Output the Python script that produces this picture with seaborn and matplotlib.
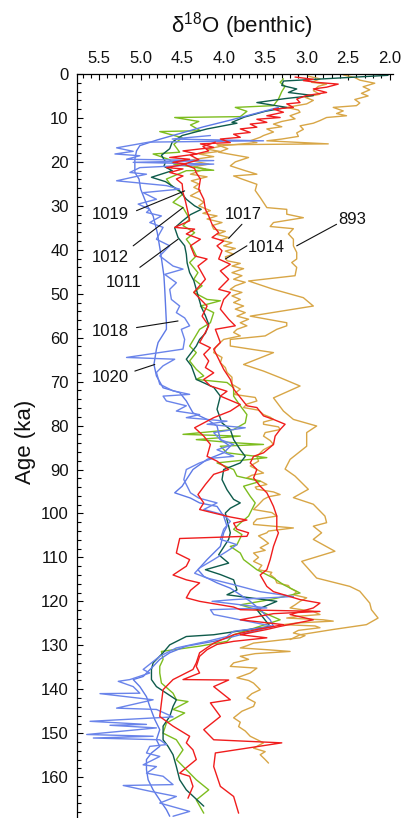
import matplotlib
matplotlib.use("Agg")
import matplotlib.pyplot as plt
from matplotlib.ticker import MultipleLocator, FormatStrFormatter
import seaborn as sns
import pandas as pd

# ---- benthic d18O records, (age ka, d18O permil) ----
core_893 = [(0.2, 2.56), (0.8, 2.42), (1.4, 2.36), (2.1, 2.18), (2.9, 2.32), (3.6, 2.24), (4.4, 2.34),
            (5.0, 2.26), (5.8, 2.42), (6.6, 2.36), (7.2, 2.40), (7.6, 2.68), (8.4, 2.56), (9.0, 2.64),
            (9.5, 2.52), (9.9, 2.76), (10.6, 2.84), (11.2, 2.92), (11.8, 3.08), (12.6, 3.04), (13.4, 3.12),
            (14.2, 3.10), (14.8, 3.30), (15.2, 3.48), (15.9, 2.74), (16.1, 4.08), (17.0, 3.95), (17.8, 4.06),
            (19.0, 3.70), (20.0, 3.86), (20.9, 3.92), (22.0, 3.74), (22.8, 3.60), (23.2, 3.88), (23.9, 3.78),
            (25.1, 3.60), (26.5, 3.62), (28.1, 3.56), (30.4, 3.48), (30.8, 3.24), (31.9, 3.24), (32.7, 3.04),
            (33.8, 3.40), (34.7, 3.44), (35.2, 3.16), (36.4, 3.22), (37.6, 3.16), (39.1, 3.16), (40.6, 3.12),
            (42.1, 3.12), (42.9, 3.18), (44.0, 3.12), (45.9, 3.14), (47.1, 3.70), (49.0, 3.40), (50.9, 3.04),
            (52.8, 2.92), (55.1, 3.68), (56.6, 3.24), (57.3, 3.24), (58.1, 3.36), (59.6, 3.50), (60.4, 3.92),
            (61.9, 3.92), (63.4, 3.40), (66.1, 3.76), (67.6, 3.52), (69.1, 3.32), (71.0, 3.08), (73.7, 3.40),
            (76.7, 3.28), (78.6, 3.16), (80.1, 2.88), (81.6, 3.00), (84.7, 3.00), (87.7, 3.20), (89.9, 3.26),
            (91.5, 3.14), (94.5, 2.98), (96.4, 3.16), (97.9, 2.92), (100.6, 2.78), (102.1, 2.76), (102.9, 2.92),
            (104.4, 2.82), (105.9, 2.92), (108.6, 2.66), (110.9, 3.06), (114.7, 2.88), (116.6, 2.48),
            (117.7, 2.36), (120.4, 2.24), (121.9, 2.22), (123.8, 2.14), (125.3, 2.28), (126.4, 2.68),
            (127.6, 3.08), (128.7, 3.20)]

core_1017 = [(0.5, 2.98), (1.1, 2.84), (1.9, 2.94), (2.3, 2.76), (2.8, 2.86), (3.8, 2.92), (4.6, 2.84),
             (5.3, 3.02), (6.0, 2.92), (6.8, 3.00), (7.6, 3.24), (8.2, 3.10), (8.7, 3.08), (9.5, 3.20),
             (10.2, 3.14), (10.8, 3.30), (11.4, 3.40), (12.0, 3.30), (12.5, 3.48), (13.2, 3.40), (14.0, 3.52),
             (14.4, 3.56), (15.2, 3.68), (15.6, 3.60), (16.3, 4.00), (17.1, 4.20), (17.6, 4.05), (18.2, 4.30),
             (18.8, 4.12), (19.4, 4.35), (19.7, 4.40), (20.5, 4.18), (21.1, 4.36), (21.6, 4.22), (22.0, 4.28),
             (22.8, 4.40), (23.4, 4.20), (24.3, 4.39), (25.0, 4.30), (25.8, 4.36), (26.5, 4.28), (27.7, 4.40),
             (28.4, 4.30), (29.2, 4.24), (30.0, 4.30), (31.1, 4.16), (31.7, 4.25), (32.3, 4.08), (33.0, 4.20),
             (33.8, 4.02), (34.5, 4.14), (35.3, 4.12), (35.8, 3.98), (36.5, 4.08), (37.2, 3.94), (37.8, 4.04),
             (38.4, 3.90), (39.1, 4.00), (39.7, 3.86), (40.3, 3.98), (41.0, 3.88), (41.6, 3.98), (42.5, 3.96),
             (43.1, 3.80), (43.7, 3.90), (44.3, 3.76), (45.2, 3.90), (45.9, 3.78), (46.7, 3.88), (47.4, 3.74),
             (48.2, 3.86), (49.0, 3.92), (49.7, 3.78), (50.5, 3.90), (51.3, 3.80), (52.0, 3.88), (52.8, 3.76),
             (53.5, 3.86), (54.3, 3.74), (55.1, 3.84), (55.8, 3.70), (56.6, 3.80), (57.3, 3.72), (58.1, 3.84),
             (58.8, 3.88), (59.6, 3.80), (60.4, 4.00), (61.1, 4.04), (62.3, 4.10), (63.4, 4.12), (64.5, 4.02),
             (65.7, 4.04), (66.8, 3.98), (67.9, 3.96), (69.0, 3.90), (70.6, 3.90), (71.7, 3.80), (72.9, 3.88),
             (73.6, 3.62), (74.4, 3.60), (75.1, 3.72), (75.9, 3.76), (76.5, 3.58), (77.5, 3.52), (78.1, 3.44),
             (78.6, 3.40), (79.2, 3.52), (79.7, 3.52), (80.3, 3.34), (80.9, 3.32), (81.6, 3.50), (82.4, 3.52),
             (83.4, 3.44), (84.3, 3.40), (85.5, 3.52), (87.0, 3.60), (88.1, 3.58), (89.2, 3.68), (90.0, 3.60),
             (90.8, 3.52), (91.3, 3.66), (91.9, 3.72), (92.6, 3.56), (93.4, 3.48), (94.0, 3.62), (94.5, 3.60),
             (95.1, 3.40), (95.7, 3.32), (96.2, 3.46), (96.8, 3.52), (98.0, 3.58), (99.1, 3.64), (99.8, 3.42),
             (100.6, 3.36), (101.3, 3.60), (102.1, 3.64), (102.5, 3.64), (103.3, 3.16), (104.0, 3.46),
             (104.4, 3.48), (105.1, 3.58), (105.9, 3.52), (106.8, 3.46), (107.8, 3.56), (108.4, 3.50),
             (109.0, 3.64), (110.0, 3.58), (110.9, 3.64), (111.8, 3.54), (112.8, 3.58), (113.4, 3.42),
             (113.9, 3.44), (114.8, 3.38), (115.8, 3.36), (116.4, 3.22), (117.0, 3.20), (117.8, 3.12),
             (118.5, 3.16), (119.2, 3.00), (120.0, 3.08), (120.8, 3.14), (121.5, 3.20), (122.3, 2.92),
             (123.0, 2.84), (123.4, 3.10), (123.8, 3.24), (124.2, 2.80), (124.5, 2.68), (124.9, 3.10),
             (125.3, 3.28), (125.6, 2.90), (126.0, 2.84), (126.6, 3.10), (127.2, 3.16), (127.8, 3.02),
             (128.3, 3.08), (129.0, 3.40), (129.5, 3.64), (130.1, 3.72), (130.6, 3.80), (131.0, 3.48),
             (131.4, 3.20), (131.9, 3.62), (132.5, 3.80), (133.2, 3.70), (134.0, 3.88), (134.8, 3.92),
             (135.2, 3.60), (136.3, 3.68), (137.4, 3.84), (138.0, 3.70), (138.6, 3.64), (140.1, 3.56),
             (141.0, 3.66), (142.0, 3.72), (143.0, 3.62), (143.9, 3.64), (145.0, 3.78), (146.5, 3.88),
             (147.5, 3.80), (148.5, 3.82), (149.5, 3.74), (150.7, 3.68), (152.2, 3.52), (153.4, 3.64),
             (154.2, 3.50), (154.9, 3.56), (156.0, 3.50), (156.8, 3.46)]

core_1012 = [(1.1, 3.28), (1.9, 3.32), (2.8, 3.26), (4.0, 3.30), (5.7, 3.34), (7.2, 3.40), (7.6, 3.86),
             (8.5, 3.72), (9.7, 3.80), (9.9, 4.59), (10.8, 4.30), (11.6, 4.40), (12.9, 4.28), (13.1, 4.77),
             (14.5, 4.50), (16.0, 4.60), (17.8, 4.53), (18.2, 4.85), (19.5, 4.65), (20.5, 4.60), (21.9, 4.12),
             (22.0, 4.45), (23.9, 4.69), (25.4, 4.63), (27.3, 4.49), (29.2, 4.61), (30.4, 4.49), (33.0, 4.41),
             (34.5, 4.49), (36.1, 4.35), (37.6, 4.45), (39.1, 4.39), (41.4, 4.33), (42.9, 4.41), (45.2, 4.31),
             (46.7, 4.36), (48.2, 4.26), (49.7, 4.36), (51.3, 4.20), (51.6, 4.04), (52.8, 4.28), (54.3, 4.12),
             (56.6, 4.16), (58.1, 4.29), (61.9, 4.41), (63.4, 4.33), (65.3, 4.41), (67.2, 4.33), (68.7, 4.24),
             (69.5, 4.33), (70.2, 3.96), (71.4, 3.88), (73.3, 3.88), (75.5, 3.80), (77.5, 3.72), (79.4, 3.74),
             (80.9, 3.88), (82.0, 4.49), (82.4, 3.80), (83.2, 4.33), (83.9, 3.88), (84.3, 3.52), (84.7, 4.04),
             (86.2, 3.96), (87.3, 3.48), (88.5, 4.08), (90.0, 3.88), (91.5, 3.84), (92.7, 3.56), (93.8, 3.76),
             (96.1, 3.68), (97.6, 3.62), (99.1, 3.66), (100.6, 3.70), (102.2, 3.80), (103.6, 3.88),
             (104.8, 3.78), (107.1, 3.84), (107.5, 3.92), (109.0, 3.80), (110.5, 3.76), (112.8, 3.60),
             (114.7, 3.40), (116.2, 3.28), (118.1, 3.08), (119.6, 3.44), (120.8, 3.80), (121.9, 3.60),
             (124.2, 3.32), (127.6, 3.88), (129.1, 3.96), (130.2, 4.29), (131.4, 4.75), (133.2, 4.73),
             (134.8, 4.77), (136.3, 4.77), (138.6, 4.75), (140.9, 4.61), (142.4, 4.57), (142.8, 4.43),
             (144.6, 4.61), (145.4, 4.47), (147.7, 4.69), (150.0, 4.73), (151.5, 4.57), (153.8, 4.49),
             (156.0, 4.57), (158.3, 4.45), (160.6, 4.33), (162.9, 4.18), (165.2, 4.33), (168.2, 4.24)]

core_1011 = [(0.3, 2.02), (1.6, 3.28), (2.6, 3.30), (3.4, 3.12), (4.2, 3.22), (4.9, 2.92), (5.6, 3.26),
             (6.5, 3.60), (7.6, 3.24), (8.5, 3.50), (9.8, 3.75), (11.0, 3.90), (11.2, 3.84), (12.5, 4.20),
             (14.0, 4.50), (15.5, 4.62), (17.0, 4.65), (18.5, 4.75), (20.0, 4.70), (21.0, 4.72), (22.0, 4.62),
             (23.5, 4.87), (24.5, 4.70), (26.6, 4.53), (28.5, 4.45), (30.0, 4.35), (30.8, 4.27), (32.0, 4.40),
             (33.5, 4.50), (35.0, 4.59), (37.2, 4.55), (39.1, 4.47), (41.0, 4.45), (43.0, 4.44), (45.2, 4.41),
             (47.0, 4.36), (49.0, 4.33), (51.0, 4.30), (53.0, 4.27), (55.0, 4.22), (57.0, 4.18), (59.0, 4.22),
             (60.4, 4.29), (61.9, 4.33), (64.9, 4.45), (66.4, 4.39), (69.5, 4.33), (71.3, 4.12), (73.3, 4.04),
             (76.3, 4.08), (79.4, 4.02), (80.9, 3.92), (83.2, 3.88), (85.5, 3.80), (87.0, 3.74), (88.5, 3.80),
             (90.0, 4.00), (92.3, 4.02), (94.6, 3.96), (96.8, 3.88), (97.6, 3.80), (98.8, 3.92), (99.9, 3.98),
             (101.4, 3.96), (104.4, 3.92), (105.9, 3.94), (109.4, 4.06), (111.3, 3.94), (112.8, 4.22),
             (113.9, 4.04), (115.1, 3.88), (117.4, 3.84), (118.5, 3.96), (120.0, 3.36), (121.9, 3.60),
             (125.7, 3.44), (127.6, 4.12), (128.0, 4.45), (129.9, 4.65), (131.7, 4.73), (134.0, 4.85),
             (135.5, 4.87), (137.8, 4.87), (139.4, 4.81), (140.9, 4.69), (142.4, 4.57), (143.9, 4.61),
             (146.2, 4.65), (148.4, 4.73), (151.5, 4.73), (153.0, 4.67), (154.9, 4.61), (157.6, 4.57),
             (160.6, 4.53), (162.9, 4.45), (166.6, 4.24)]

core_1020 = [(7.6, 3.34), (9.0, 3.62), (10.5, 3.92), (12.0, 4.24), (13.5, 4.52), (15.0, 4.80), (16.3, 5.01),
             (17.5, 5.05), (19.4, 5.07), (22.4, 5.07), (23.9, 5.02), (26.2, 5.00), (30.0, 4.92), (32.3, 4.85),
             (36.1, 4.80), (40.6, 4.76), (45.9, 4.72), (49.0, 4.71), (52.8, 4.70), (56.6, 4.69), (58.1, 4.69),
             (61.1, 4.79), (62.6, 4.81), (66.1, 4.84), (68.7, 4.81), (71.4, 4.73), (72.5, 4.53), (74.4, 4.45),
             (77.1, 4.37), (78.6, 4.20), (80.1, 4.08), (83.2, 4.04), (84.7, 3.92), (86.2, 4.00), (87.7, 4.20),
             (90.0, 4.37), (92.3, 4.45), (93.8, 4.50), (95.3, 4.59), (96.5, 4.40), (97.6, 4.29), (98.4, 4.08),
             (100.6, 4.00), (102.9, 3.96), (104.4, 4.00), (107.5, 4.04), (110.5, 4.20), (112.8, 4.31),
             (114.3, 4.24), (115.8, 4.08), (117.0, 3.92), (118.5, 3.80), (120.0, 3.68), (121.9, 3.56),
             (124.2, 3.44), (125.7, 3.40), (126.8, 3.64), (128.0, 3.88), (129.1, 4.12), (130.2, 4.45),
             (131.7, 4.65), (133.2, 4.77), (134.8, 4.85), (137.1, 4.97), (137.8, 5.09), (139.4, 5.01),
             (141.7, 4.93), (143.9, 4.89), (146.9, 4.83), (149.2, 4.77), (151.5, 4.81), (153.0, 4.77),
             (154.5, 4.87), (156.0, 4.93), (158.3, 4.93), (160.6, 4.91), (162.9, 4.85), (165.2, 4.77),
             (167.4, 4.69), (168.9, 4.65)]

core_1018 = [(14.0, 4.16), (14.8, 4.62), (15.2, 3.52), (15.5, 4.90), (16.8, 5.29), (17.6, 5.09), (18.2, 5.31),
             (18.6, 5.01), (19.4, 5.17), (19.7, 4.12), (20.1, 5.09), (20.5, 4.12), (21.3, 5.01), (22.4, 5.13),
             (22.8, 4.93), (24.3, 5.29), (25.4, 4.69), (26.2, 4.53), (27.0, 4.97), (28.5, 4.81), (29.6, 5.03),
             (30.8, 4.89), (31.5, 4.93), (32.3, 4.75), (33.8, 4.89), (34.9, 4.73), (37.6, 4.81), (39.1, 4.65),
             (41.4, 4.77), (43.7, 4.61), (44.4, 4.49), (45.6, 4.71), (47.5, 4.57), (49.0, 4.65), (51.3, 4.63),
             (52.8, 4.53), (54.3, 4.57), (55.5, 4.47), (57.3, 4.41), (58.1, 4.51), (60.4, 4.47), (62.6, 4.49),
             (64.5, 5.17), (64.9, 4.59), (66.4, 4.73), (67.9, 4.81), (70.6, 4.77), (72.1, 4.61), (72.9, 4.41),
             (73.3, 4.73), (74.4, 4.69), (75.5, 4.45), (76.7, 4.57), (77.5, 4.29), (78.2, 4.45), (79.0, 3.96),
             (79.7, 4.20), (80.5, 3.74), (81.6, 4.12), (83.2, 4.04), (84.3, 3.88), (85.5, 4.08), (87.0, 3.88),
             (87.4, 4.12), (88.5, 4.29), (90.0, 4.45), (92.3, 4.48), (95.3, 4.40), (96.5, 4.30), (97.6, 4.08),
             (99.1, 4.24), (100.3, 4.00), (101.8, 3.92), (103.6, 4.00), (105.9, 4.04), (107.1, 3.84),
             (108.6, 3.96), (110.5, 4.12), (112.4, 4.29), (113.6, 4.35), (114.7, 4.20), (116.2, 3.88),
             (117.8, 3.56), (118.9, 3.16), (119.6, 3.88), (120.0, 4.14), (121.5, 3.48), (121.9, 4.16),
             (123.0, 4.12), (124.2, 3.80), (125.7, 3.40), (126.8, 3.88), (128.0, 3.96), (129.1, 4.20),
             (130.6, 4.57), (132.5, 4.77), (135.5, 4.97), (136.3, 4.89), (137.8, 5.13), (138.2, 5.27),
             (139.4, 5.09), (140.9, 5.01), (141.0, 5.49), (142.4, 4.85), (144.3, 5.29), (144.6, 4.81),
             (146.3, 4.61), (147.3, 5.61), (148.0, 4.93), (148.2, 5.37), (148.8, 4.81), (150.3, 5.65),
             (150.7, 4.85), (151.1, 5.57), (151.5, 4.77), (152.6, 4.69), (153.0, 4.89), (154.5, 4.93),
             (155.3, 4.77), (157.2, 4.97), (157.6, 4.81), (159.1, 4.93), (159.8, 4.73), (161.7, 4.61),
             (161.9, 5.21), (163.2, 4.89), (164.4, 4.57), (165.9, 4.77), (167.8, 4.41), (168.9, 4.61)]

core_1019 = [(0.7, 3.14), (1.2, 2.92), (1.5, 3.04), (1.9, 2.88), (2.3, 2.62), (3.0, 2.76), (3.4, 2.92),
             (4.2, 2.76), (4.9, 3.00), (5.7, 3.12), (6.5, 3.08), (6.8, 3.24), (7.6, 3.16), (8.0, 3.40),
             (8.7, 3.28), (9.5, 3.48), (9.9, 3.32), (10.3, 3.60), (11.0, 3.48), (11.4, 3.68), (12.1, 3.60),
             (12.5, 3.80), (13.3, 3.68), (13.7, 3.88), (14.4, 3.80), (14.8, 4.04), (15.6, 3.92), (15.9, 4.28),
             (16.7, 4.12), (17.5, 4.49), (18.2, 4.32), (19.0, 4.65), (19.4, 4.41), (20.1, 4.61), (20.5, 4.45),
             (21.3, 4.69), (21.6, 4.49), (22.4, 4.65), (23.2, 4.49), (23.9, 4.57), (25.0, 4.50), (27.0, 4.49),
             (29.0, 4.46), (31.5, 4.43), (33.4, 4.41), (34.9, 4.59), (35.3, 4.35), (36.4, 4.45), (37.6, 4.28),
             (39.1, 4.40), (41.4, 4.35), (42.1, 4.20), (43.7, 4.31), (46.7, 4.22), (49.7, 4.36), (52.8, 4.20),
             (55.1, 4.26), (57.3, 4.18), (58.1, 4.20), (61.1, 4.29), (62.3, 4.16), (63.8, 4.24), (65.3, 4.18),
             (66.8, 4.22), (68.0, 4.12), (69.5, 4.24), (71.0, 4.16), (72.2, 3.96), (73.3, 4.04), (75.2, 3.80),
             (76.7, 3.92), (78.2, 4.12), (80.5, 4.35), (82.4, 4.24), (84.3, 4.16), (87.0, 4.20), (88.1, 4.08),
             (90.0, 3.94), (91.1, 4.12), (93.4, 4.22), (95.7, 4.31), (97.6, 4.24), (99.1, 4.29), (99.9, 4.12),
             (100.8, 3.92), (101.5, 3.72), (102.2, 3.88), (103.6, 3.84), (104.4, 3.70), (105.2, 3.72),
             (105.7, 4.53), (109.0, 4.57), (110.5, 4.41), (112.0, 4.45), (114.0, 4.61), (115.1, 4.45),
             (115.8, 4.29), (117.5, 4.40), (119.2, 4.45), (120.0, 4.29), (121.3, 3.88), (121.9, 3.80),
             (122.3, 2.84), (122.8, 3.40), (124.2, 3.80), (125.3, 3.28), (126.4, 3.60), (127.6, 3.88),
             (129.5, 4.12), (131.7, 4.29), (134.0, 4.33), (135.5, 4.37), (137.8, 4.61), (140.1, 4.73),
             (143.1, 4.75), (146.2, 4.77), (148.4, 4.61), (150.7, 4.41), (152.2, 4.45), (153.8, 4.37),
             (156.0, 4.33), (159.1, 4.53), (159.8, 4.41), (162.1, 4.37), (164.8, 4.43)]

core_1014 = [(15.5, 4.10), (16.5, 4.25), (17.5, 4.18), (18.5, 4.40), (19.5, 4.30), (20.5, 4.48), (21.5, 4.35),
             (22.5, 4.33), (23.9, 4.28), (26.2, 4.30), (28.5, 4.24), (30.8, 4.22), (32.3, 4.18), (34.2, 4.14),
             (36.1, 4.06), (37.2, 4.14), (38.0, 4.00), (39.1, 4.08), (40.2, 4.02), (42.1, 4.06), (43.3, 3.92),
             (44.8, 4.04), (46.7, 3.94), (49.0, 4.06), (49.7, 3.92), (51.3, 4.00), (53.5, 4.04), (55.8, 3.94),
             (57.3, 3.86), (58.1, 4.10), (61.1, 4.04), (62.6, 4.12), (64.9, 4.06), (67.2, 4.00), (69.5, 3.92),
             (71.7, 3.88), (75.5, 3.72), (75.9, 3.60), (77.8, 3.52), (78.6, 3.40), (79.7, 3.26), (80.9, 3.32),
             (82.4, 3.38), (84.3, 3.40), (86.2, 3.52), (87.0, 3.64), (88.5, 3.68), (90.0, 3.60), (91.9, 3.64),
             (93.8, 3.56), (95.3, 3.48), (96.8, 3.44), (98.4, 3.40), (100.6, 3.36), (103.7, 3.36),
             (104.4, 3.34), (107.5, 3.40), (110.5, 3.44), (112.8, 3.48), (114.0, 3.56), (116.6, 3.48),
             (117.8, 3.40), (119.6, 3.08), (120.4, 2.84), (121.5, 2.92), (123.0, 3.20), (124.2, 2.92),
             (125.7, 3.32), (126.4, 3.48), (127.6, 3.80), (128.3, 3.48), (129.1, 3.88), (129.8, 4.08),
             (131.0, 4.20), (132.5, 4.29), (134.8, 4.33), (136.3, 4.29), (137.8, 4.49), (137.9, 3.94),
             (139.4, 4.12), (142.4, 3.92), (143.1, 4.16), (146.2, 4.04), (149.2, 4.24), (151.5, 4.12),
             (152.2, 3.30), (154.5, 4.10), (157.6, 4.12), (162.1, 4.04), (164.4, 3.88), (168.2, 3.82)]

cores = ["893", "1017", "1012", "1011", "1020", "1018", "1019", "1014"]
records = [core_893, core_1017, core_1012, core_1011, core_1020, core_1018, core_1019, core_1014]
colors = ["#D8A646", "#D8A646", "#7DBD1F", "#0E5B4B", "#5D79E6", "#6A84EA", "#F01D1D", "#F01D1D"]

# core label text position, leader start, leader end (d18O, age)
label_text = {"1019": (5.37, 32.0), "1012": (5.37, 41.8), "1011": (5.20, 47.5), "1018": (5.37, 58.5),
              "1020": (5.36, 69.0), "1017": (3.77, 31.9), "1014": (3.49, 39.5), "893": (2.45, 33.0)}
leader = {"1019": ((5.05, 31.1), (4.47, 26.6)), "1012": ((5.09, 39.1), (4.49, 30.4)),
          "1011": ((5.01, 44.0), (4.55, 37.6)), "1018": ((5.05, 57.7), (4.55, 56.2)),
          "1020": ((5.07, 67.6), (4.83, 66.1)), "1017": ((3.78, 34.2), (3.94, 37.4)),
          "1014": ((3.72, 39.1), (3.98, 42.1)), "893": ((2.64, 34.2), (3.12, 39.1))}

rows = []
for name, rec in zip(cores, records):
    for i, (age, d) in enumerate(rec):
        rows.append({"core": name, "age": age, "d18o": d, "step": i})
df = pd.DataFrame(rows)

sns.set_style("ticks")
plt.rcParams["font.family"] = ["Liberation Sans", "DejaVu Sans"]
plt.rcParams["mathtext.default"] = "regular"

fig = plt.figure(figsize=(4.04, 8.18), dpi=100)
ax = fig.add_axes([77 / 404, 0.0, 316 / 404, 744 / 818])

sns.lineplot(data=df, x="d18o", y="age", hue="core", hue_order=cores,
             palette=dict(zip(cores, colors)), sort=False, estimator=None,
             legend=False, linewidth=1.0, ax=ax)

ax.set_xlim(5.767, 1.96)
ax.set_ylim(169.3, 0)
ax.set_xlabel("")
ax.set_ylabel("")

ax.xaxis.tick_top()
ax.xaxis.set_major_locator(MultipleLocator(0.5))
ax.xaxis.set_minor_locator(MultipleLocator(0.1))
ax.xaxis.set_major_formatter(FormatStrFormatter("%.1f"))
ax.yaxis.set_major_locator(MultipleLocator(10))
ax.yaxis.set_minor_locator(MultipleLocator(2))
ax.tick_params(which="both", direction="in", width=0.8, color="black", labelsize=12,
               labelcolor="#111111", top=True, bottom=False, left=True, right=False)
ax.tick_params(which="major", length=4.5)
ax.tick_params(which="minor", length=2.6)
ax.tick_params(axis="x", pad=6)
ax.tick_params(axis="y", pad=6)

for side in ["right", "bottom"]:
    ax.spines[side].set_visible(False)
for side in ["top", "left"]:
    ax.spines[side].set_linewidth(0.9)
    ax.spines[side].set_color("black")

for name, (tx, ty) in label_text.items():
    ax.text(tx, ty, name, fontsize=12, ha="center", va="center", color="#111111")
    (x0, y0), (x1, y1) = leader[name]
    ax.plot([x0, x1], [y0, y1], color="#111111", lw=0.8)

fig.text(242 / 404, 1 - 26 / 818, "δ$^{18}$O (benthic)", fontsize=16,
         ha="center", va="center", color="#111111")
fig.text(26 / 404, 1 - 442 / 818, "Age (ka)", fontsize=16, rotation=90,
         ha="center", va="center", color="#111111")

fig.savefig("out.png", dpi=100)
